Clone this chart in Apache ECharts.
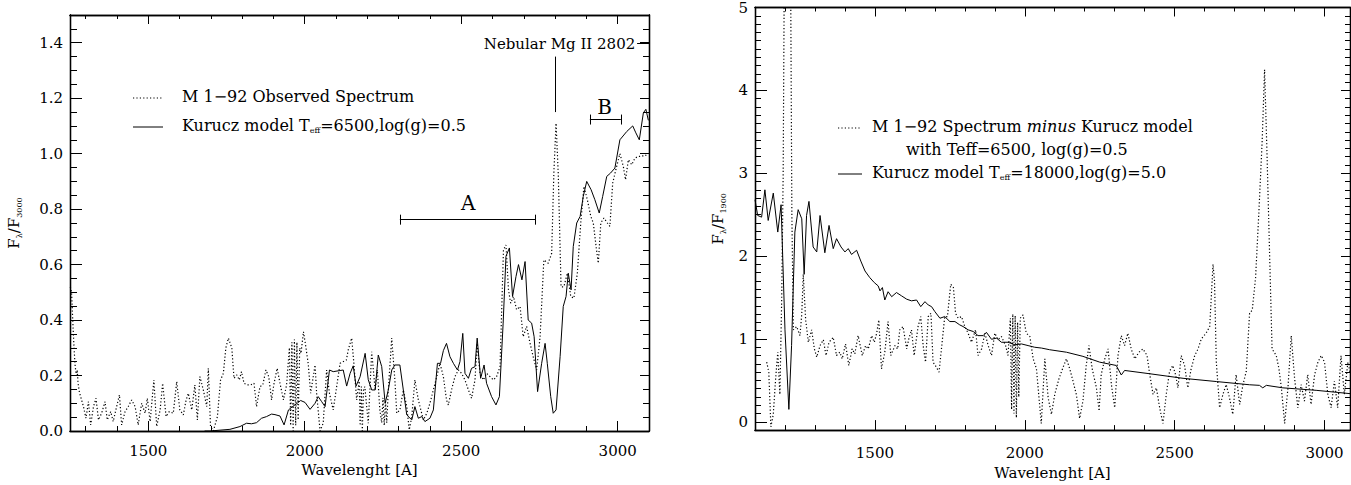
<!DOCTYPE html>
<html><head><meta charset="utf-8">
<script src="https://cdn.jsdelivr.net/npm/echarts@6/dist/echarts.min.js"></script>
<style>html,body{margin:0;padding:0;background:#fff}#c{width:1351px;height:485px}</style>
</head><body><div id="c"></div>
<script>
// ---------- Left panel: observed spectrum (dotted) ----------
const leftObsWave = [1251,1255,1258,1262,1266,1270,1273,1276,1280,1293,1301,1309,1316,1325,1333,1341,1351,1362,1369,1380,1388,1399,1408,1415,1426,1436,1447,1458,1468,1479,1490,1497,1506,1518,1527,1538,1546,1557,1567,1580,1591,1601,1612,1621,1628,1639,1649,1657,1665,1676,1687,1692,1699,1708,1721,1731,1740,1748,1756,1767,1774,1783,1791,1798,1806,1817,1827,1838,1846,1857,1866,1876,1885,1894,1902,1912,1921,1932,1942,1951,1955,1959,1963,1967,1971,1975,1979,1984,1988,1996,2004,2011,2019,2033,2038,2049,2059,2070,2079,2091,2102,2113,2133,2139,2150,2157,2166,2174,2177,2181,2184,2188,2192,2203,2214,2225,2232,2240,2246,2250,2254,2258,2262,2267,2278,2288,2294,2304,2315,2326,2334,2342,2352,2363,2379,2390,2400,2411,2422,2432,2443,2453,2459,2469,2480,2491,2501,2512,2523,2533,2544,2551,2560,2571,2581,2592,2603,2613,2624,2635,2643,2651,2658,2667,2677,2688,2698,2709,2720,2730,2741,2752,2764,2778,2789,2796,2803,2810,2819,2828,2839,2850,2860,2871,2882,2892,2903,2914,2922,2931,2938,2946,2956,2967,2975,2984,2994,3007,3018,3025,3034,3045,3055,3066,3077,3087,3098];
const leftObsFlux = [0.52,0.50,0.42,0.32,0.24,0.20,0.22,0.17,0.14,0.088,0.046,0.106,0.022,0.088,0.118,0.04,0.064,0.106,0.04,0.07,0.034,0.088,0.13,0.022,0.07,0.088,0.112,0.088,0.022,0.1,0.064,0.118,0.034,0.184,0.016,0.076,0.172,0.052,0.07,0.064,0.178,0.076,0.058,0.112,0.136,0.076,0.166,0.04,0.196,0.148,0.088,0.226,0.016,0.0,0.052,0.184,0.208,0.30,0.335,0.30,0.19,0.202,0.184,0.214,0.172,0.166,0.166,0.172,0.088,0.16,0.166,0.22,0.196,0.112,0.172,0.226,0.172,0.112,0.166,0.30,0.02,0.32,0.0,0.33,0.02,0.32,0.04,0.30,0.28,0.358,0.30,0.244,0.136,0.238,0.136,0.0,0.028,0.22,0.136,0.076,0.16,0.244,0.256,0.292,0.335,0.244,0.112,0.18,0.02,0.16,0.0,0.15,0.16,0.028,0.286,0.148,0.22,0.076,0.03,0.12,0.02,0.11,0.03,0.148,0.335,0.184,0.064,0.076,0.148,0.088,0.004,0.052,0.184,0.112,0.04,0.064,0.1,0.148,0.196,0.244,0.196,0.112,0.094,0.148,0.196,0.22,0.208,0.184,0.148,0.118,0.184,0.316,0.208,0.184,0.208,0.196,0.184,0.196,0.232,0.653,0.671,0.509,0.461,0.485,0.437,0.449,0.34,0.377,0.316,0.268,0.22,0.34,0.617,0.605,0.641,0.93,1.11,0.93,0.52,0.52,0.569,0.485,0.479,0.569,0.75,0.882,0.834,0.774,0.75,0.665,0.605,0.75,0.768,0.75,0.738,0.894,0.942,1.0,0.954,0.906,0.978,0.96,0.984,0.99,0.99,0.996,0.99];

// ---------- Left panel: Kurucz model Teff=6500 (solid) ----------
const leftModelWave = [1680,1697,1761,1793,1814,1830,1846,1862,1878,1894,1905,1921,1934,1948,1961,1976,1987,2001,2017,2033,2043,2054,2065,2079,2091,2113,2123,2134,2145,2155,2164,2177,2193,2203,2214,2225,2235,2246,2257,2267,2278,2288,2304,2315,2326,2342,2352,2363,2374,2384,2400,2411,2424,2434,2443,2453,2464,2475,2488,2496,2505,2512,2523,2533,2544,2551,2562,2573,2581,2597,2611,2622,2634,2643,2654,2664,2675,2683,2694,2704,2714,2725,2733,2744,2757,2768,2775,2786,2794,2803,2816,2826,2835,2842,2851,2858,2869,2880,2890,2901,2915,2927,2941,2952,2965,2977,2991,3007,3029,3048,3058,3069,3082,3090,3098];
const leftModelFlux = [0,0,0.006,0.016,0.028,0.026,0.03,0.046,0.052,0.061,0.059,0.054,0.022,0.076,0.088,0.1,0.11,0.103,0.078,0.1,0.124,0.106,0.088,0.22,0.214,0.218,0.22,0.162,0.208,0.235,0.162,0.196,0.28,0.185,0.148,0.148,0.274,0.232,0.1,0.148,0.22,0.238,0.238,0.148,0.058,0.04,0.088,0.046,0.052,0.034,0.046,0.076,0.244,0.244,0.29,0.316,0.268,0.244,0.22,0.25,0.352,0.208,0.19,0.226,0.232,0.335,0.19,0.238,0.172,0.124,0.094,0.124,0.389,0.63,0.66,0.485,0.557,0.6,0.545,0.611,0.4,0.389,0.34,0.142,0.244,0.316,0.244,0.124,0.064,0.076,0.269,0.449,0.485,0.569,0.509,0.665,0.75,0.774,0.846,0.90,0.87,0.834,0.786,0.846,0.918,0.93,0.948,1.05,1.08,1.10,1.075,1.05,1.147,1.16,1.12];

// ---------- Right panel: spectrum minus Kurucz 6500 (dotted) ----------
const rightObsWave = [1139,1146,1153,1161,1169,1176,1183,1189,1194,1198,1205,1218,1223,1228,1239,1250,1256,1261,1269,1278,1289,1298,1306,1317,1328,1337,1347,1361,1372,1383,1391,1402,1413,1424,1433,1444,1458,1469,1478,1489,1498,1506,1513,1522,1533,1544,1553,1567,1576,1583,1594,1606,1613,1622,1631,1644,1653,1661,1669,1678,1687,1694,1705,1714,1722,1733,1742,1753,1762,1769,1778,1789,1800,1811,1822,1836,1844,1856,1867,1878,1889,1900,1911,1922,1936,1944,1952,1956,1960,1964,1968,1972,1976,1980,1985,1994,2005,2017,2028,2039,2055,2067,2078,2089,2100,2114,2128,2139,2150,2161,2172,2183,2194,2205,2214,2225,2239,2248,2255,2267,2278,2289,2300,2311,2322,2333,2344,2355,2367,2381,2394,2408,2417,2428,2439,2450,2461,2472,2483,2494,2503,2511,2522,2533,2544,2555,2567,2578,2589,2605,2617,2628,2633,2639,2650,2661,2672,2683,2694,2705,2717,2728,2739,2750,2759,2770,2781,2792,2800,2808,2816,2825,2839,2848,2856,2867,2878,2889,2900,2911,2922,2933,2944,2955,2967,2978,2989,3000,3011,3022,3033,3044,3055,3066,3078,3085];
const rightObsFlux = [0.72,0.60,-0.06,0.09,0.53,0.84,0.33,1.47,3.0,5.6,6.0,6.0,2.5,1.11,1.15,1.04,1.3,1.78,1.23,0.96,1.11,0.88,0.78,0.92,0.99,0.80,0.96,1.02,0.80,0.84,0.76,0.94,0.68,0.88,0.82,1.04,0.80,0.92,0.88,1.04,0.96,1.07,1.23,0.64,0.84,1.21,0.80,0.92,0.88,1.11,1.15,0.88,1.0,1.11,0.80,1.15,1.27,0.92,0.72,1.27,1.31,0.72,0.66,0.60,0.88,1.27,1.27,1.66,1.62,1.31,1.25,1.27,1.15,1.07,0.96,1.11,0.80,0.88,1.07,0.92,0.80,1.07,0.99,1.03,0.92,0.80,1.25,0.15,1.3,0.1,1.28,0.05,1.2,0.3,1.25,1.29,1.07,1.03,0.76,0.64,-0.02,0.76,0.29,0.09,0.33,0.52,0.66,0.76,0.64,0.49,0.33,0.04,0.25,0.68,0.92,0.64,0.41,0.13,0.57,0.76,0.88,0.45,0.17,0.80,1.04,0.92,1.07,0.88,0.76,0.84,0.88,0.80,0.57,0.33,0.41,0.17,-0.02,0.33,0.61,0.68,0.57,0.41,0.80,0.68,0.41,0.64,0.80,0.88,1.0,1.07,1.15,1.9,1.7,0.72,0.17,0.33,0.45,0.29,0.09,0.57,0.21,0.45,0.61,1.31,1.35,1.74,2.53,3.39,4.25,3.25,2.13,0.88,0.80,0.64,0.41,-0.02,0.41,1.04,0.53,0.17,0.45,0.25,0.57,0.21,0.57,0.72,0.80,0.72,0.33,0.17,0.49,0.17,0.80,0.33,0.72,0.6];

// ---------- Right panel: Kurucz model Teff=18000 (solid) ----------
const rightModelWave = [1100,1109,1122,1133,1144,1161,1176,1187,1200,1213,1222,1233,1244,1256,1264,1272,1280,1294,1306,1317,1333,1347,1361,1372,1387,1400,1411,1422,1439,1453,1467,1483,1498,1511,1517,1525,1533,1544,1556,1572,1589,1606,1622,1639,1653,1667,1678,1689,1700,1717,1733,1750,1767,1783,1794,1811,1828,1844,1861,1872,1889,1906,1922,1944,1967,1989,2011,2033,2056,2083,2139,2194,2250,2305,2322,2333,2417,2528,2639,2750,2783,2794,2806,2861,2972,3085];
const rightModelFlux = [2.68,2.49,2.47,2.8,2.43,2.76,2.29,2.62,1.11,0.15,0.92,2.29,2.56,2.45,1.78,2.49,2.66,2.11,2.05,2.49,2.04,2.37,2.09,2.21,2.11,2.05,2.09,2.02,2.07,1.94,1.82,1.74,1.68,1.64,1.58,1.62,1.47,1.57,1.51,1.56,1.52,1.48,1.46,1.47,1.39,1.45,1.41,1.39,1.33,1.25,1.27,1.21,1.21,1.17,1.15,1.11,1.09,1.04,1.04,1.08,0.996,1.01,0.96,0.96,0.93,0.94,0.92,0.90,0.89,0.87,0.84,0.79,0.72,0.68,0.565,0.62,0.58,0.525,0.486,0.447,0.44,0.41,0.44,0.41,0.38,0.34];

// ---------- Axis ranges and tick labels ----------
const leftXRange = [1250, 3100];
const leftYRange = [0, 1.5];
const rightXRange = [1100, 3085];
const rightYRange = [-0.1, 5];
const leftXTicks = [1500, 2000, 2500, 3000];
const leftYTicks = [0, 0.2, 0.4, 0.6, 0.8, 1.0, 1.2, 1.4];
const rightXTicks = [1500, 2000, 2500, 3000];
const rightYTicks = [0, 1, 2, 3, 4, 5];

function steps(a, b, s) { const out = []; const n = Math.round((b - a) / s); for (let i = 0; i <= n; i++) out.push(+(a + i * s).toFixed(4)); return out; }
const leftXMinor = steps(1300, 3100, 100);
const leftYMinor = steps(0, 1.5, 0.05);
const rightXMinor = steps(1100, 3000, 100);
const rightYMinor = steps(-0.1, 5, 0.1);

const FONT = 'DejaVu Serif';
const BLACK = '#000';
function pairs(w, f) { return w.map((x, i) => [x, f[i]]); }

function xAx(grid, range, pos, ticks, len, label, name, nameGap, labelMargin) {
  return {
    type: 'value', gridIndex: grid, min: range[0], max: range[1], position: pos,
    axisLine: { show: true, onZero: false, lineStyle: { color: BLACK, width: 1.3 } },
    axisTick: { show: true, inside: true, length: len, customValues: ticks, lineStyle: { color: BLACK, width: 1 } },
    axisLabel: { show: !!label, customValues: ticks, margin: labelMargin || 8, color: BLACK, fontFamily: FONT, fontSize: 15,
      formatter: v => '{t|' + v + '}', rich: { t: { fontFamily: FONT, fontSize: 15, color: BLACK } } },
    splitLine: { show: false }, minorTick: { show: false },
    name: name ? '{t|' + name + '}' : '', nameLocation: 'middle', nameGap: nameGap || 0,
    nameTextStyle: { color: BLACK, fontFamily: FONT, fontSize: 15, rich: { t: { fontFamily: FONT, fontSize: 15, color: BLACK } } }
  };
}
function yAx(grid, range, pos, ticks, len, label, fmt, name, nameGap) {
  return {
    type: 'value', gridIndex: grid, min: range[0], max: range[1], position: pos,
    axisLine: { show: true, onZero: false, lineStyle: { color: BLACK, width: 1.3 } },
    axisTick: { show: true, inside: true, length: len, customValues: ticks, lineStyle: { color: BLACK, width: 1 } },
    axisLabel: { show: !!label, customValues: ticks, margin: 7, color: BLACK, fontFamily: FONT, fontSize: 15,
      formatter: v => '{t|' + fmt(v) + '}', rich: { t: { fontFamily: FONT, fontSize: 15, color: BLACK } } },
    splitLine: { show: false }, minorTick: { show: false },
    name: name || '', nameLocation: 'middle', nameGap: nameGap || 0, nameRotate: 90,
    nameTextStyle: { color: BLACK, fontFamily: FONT, fontSize: 15, lineHeight: 18,
      rich: { m: { fontFamily: FONT, fontSize: 15, lineHeight: 18 }, s: { fontFamily: FONT, fontSize: 8, verticalAlign: 'bottom', lineHeight: 18 } } }
  };
}

const xAxes = [
  xAx(0, leftXRange, 'bottom', leftXTicks, 10, true, 'Wavelenght [A]', 30, 12),
  xAx(0, leftXRange, 'bottom', leftXMinor, 5, false),
  xAx(0, leftXRange, 'top', leftXTicks, 9, false),
  xAx(0, leftXRange, 'top', leftXMinor, 4, false),
  xAx(1, rightXRange, 'bottom', rightXTicks, 10, true, 'Wavelenght [A]', 32, 15),
  xAx(1, rightXRange, 'bottom', rightXMinor, 5, false),
  xAx(1, rightXRange, 'top', rightXTicks, 9, false),
  xAx(1, rightXRange, 'top', rightXMinor, 4, false)
];
const yAxes = [
  yAx(0, leftYRange, 'left', leftYTicks, 12, true, v => v.toFixed(1), '{m|F}{s|λ}{m|/F}{s|3000}', 47),
  yAx(0, leftYRange, 'left', leftYMinor, 7, false, v => v),
  yAx(0, leftYRange, 'right', leftYTicks, 9, false, v => v),
  yAx(0, leftYRange, 'right', leftYMinor, 6, false, v => v),
  yAx(1, rightYRange, 'left', rightYTicks, 12, true, v => String(v), '{m|F}{s|λ}{m|/F}{s|1900}', 28),
  yAx(1, rightYRange, 'left', rightYMinor, 6, false, v => v),
  yAx(1, rightYRange, 'right', rightYTicks, 9, false, v => v),
  yAx(1, rightYRange, 'right', rightYMinor, 5, false, v => v)
];

const dotted = { color: BLACK, width: 1.2, type: [1.2, 2.2] };
const solid = { color: BLACK, width: 1, type: 'solid' };
const annLine = { color: BLACK, width: 1, type: 'solid' };
const txt = { color: BLACK, fontFamily: FONT };
const LEG = '16px "DejaVu Serif", serif';

const chart = echarts.init(document.getElementById('c'), null, { renderer: 'svg' });
chart.setOption({
  animation: false,
  backgroundColor: '#fff',
  textStyle: { fontFamily: FONT },
  grid: [
    { left: 70, top: 15, width: 579, height: 416 },
    { left: 755, top: 5, width: 595, height: 431 }
  ],
  xAxis: xAxes,
  yAxis: yAxes,
  series: [
    { type: 'line', xAxisIndex: 0, yAxisIndex: 0, data: pairs(leftObsWave, leftObsFlux), showSymbol: false, lineStyle: dotted, clip: true },
    { type: 'line', xAxisIndex: 0, yAxisIndex: 0, data: pairs(leftModelWave, leftModelFlux), showSymbol: false, lineStyle: solid, clip: true,
      markLine: {
        silent: true, symbol: 'none', animation: false, label: { show: false }, lineStyle: annLine,
        data: [
          [{ coord: [2304, 0.762] }, { coord: [2736, 0.762] }],
          [{ coord: [2304, 0.744] }, { coord: [2304, 0.780] }],
          [{ coord: [2736, 0.744] }, { coord: [2736, 0.780] }],
          [{ coord: [2911, 1.123] }, { coord: [3010, 1.123] }],
          [{ coord: [2911, 1.105] }, { coord: [2911, 1.141] }],
          [{ coord: [3010, 1.105] }, { coord: [3010, 1.141] }],
          [{ coord: [2802, 1.35] }, { coord: [2802, 1.15] }],
          [{ coord: [3062, 1.397] }, { coord: [3100, 1.397] }]
        ]
      },
      markPoint: {
        silent: true, animation: false, symbol: 'circle', symbolSize: 0,
        data: [
          { coord: [2522, 0.823], label: { show: true, position: 'inside', formatter: 'A', fontSize: 20, ...txt } },
          { coord: [2958, 1.168], label: { show: true, position: 'inside', formatter: 'B', fontSize: 20, ...txt } },
          { coord: [3056, 1.397], label: { show: true, position: 'left', distance: 0, formatter: '{t|Nebular Mg II 2802}', fontSize: 15, ...txt,
              rich: { t: { fontFamily: FONT, fontSize: 15, color: BLACK } } } }
        ]
      }
    },
    { type: 'line', xAxisIndex: 4, yAxisIndex: 4, data: pairs(rightObsWave, rightObsFlux), showSymbol: false, lineStyle: dotted, clip: true },
    { type: 'line', xAxisIndex: 4, yAxisIndex: 4, data: pairs(rightModelWave, rightModelFlux), showSymbol: false, lineStyle: solid, clip: true }
  ],
  graphic: [
    { type: 'line', shape: { x1: 133, y1: 98, x2: 163, y2: 98 }, style: { stroke: BLACK, lineWidth: 1.2, lineDash: [1.2, 2.2] } },
    { type: 'text', x: 182, y: 96, style: { text: 'M 1−92 Observed Spectrum', font: LEG, fill: BLACK, verticalAlign: 'middle' } },
    { type: 'line', shape: { x1: 133, y1: 127, x2: 163, y2: 127 }, style: { stroke: BLACK, lineWidth: 1 } },
    { type: 'text', x: 182, y: 125, style: { text: 'Kurucz model T{s|eff}=6500,log(g)=0.5', font: LEG, fill: BLACK, verticalAlign: 'middle', lineHeight: 18,
        rich: { s: { fontSize: 8, fontFamily: FONT, verticalAlign: 'bottom', lineHeight: 18 } } } },
    { type: 'line', shape: { x1: 838, y1: 128, x2: 860, y2: 128 }, style: { stroke: BLACK, lineWidth: 1.2, lineDash: [1.2, 2.2] } },
    { type: 'text', x: 872, y: 126, style: { text: 'M 1−92 Spectrum {i|minus} Kurucz model', font: LEG, fill: BLACK, verticalAlign: 'middle',
        rich: { i: { fontStyle: 'italic', fontSize: 16, fontFamily: FONT } } } },
    { type: 'text', x: 906, y: 149, style: { text: 'with Teff=6500, log(g)=0.5', font: LEG, fill: BLACK, verticalAlign: 'middle' } },
    { type: 'line', shape: { x1: 838, y1: 174, x2: 862, y2: 174 }, style: { stroke: BLACK, lineWidth: 1 } },
    { type: 'text', x: 872, y: 172, style: { text: 'Kurucz model T{s|eff}=18000,log(g)=5.0', font: LEG, fill: BLACK, verticalAlign: 'middle', lineHeight: 18,
        rich: { s: { fontSize: 8, fontFamily: FONT, verticalAlign: 'bottom', lineHeight: 18 } } } }
  ]
});
</script></body></html>
